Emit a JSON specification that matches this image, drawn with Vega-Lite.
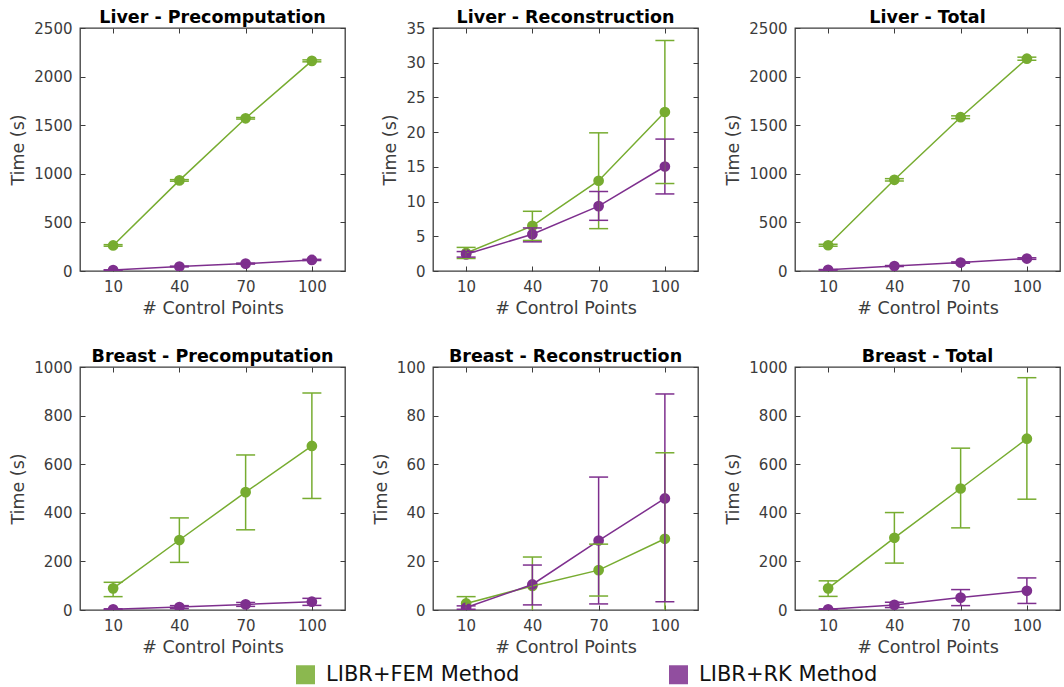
{
  "$schema": "https://vega.github.io/schema/vega-lite/v6.json",
  "padding": {"left": 9, "top": 7, "right": 0, "bottom": 0},
  "background": "white",
  "datasets": {
    "times": [
      {"panel": "Liver - Precomputation", "method": "LIBR+FEM Method", "cp": 10, "t": 263, "lo": 255, "hi": 271},
      {"panel": "Liver - Precomputation", "method": "LIBR+FEM Method", "cp": 40, "t": 932, "lo": 924, "hi": 940},
      {"panel": "Liver - Precomputation", "method": "LIBR+FEM Method", "cp": 70, "t": 1571, "lo": 1563, "hi": 1579},
      {"panel": "Liver - Precomputation", "method": "LIBR+FEM Method", "cp": 100, "t": 2162, "lo": 2152, "hi": 2172},
      {"panel": "Liver - Precomputation", "method": "LIBR+RK Method", "cp": 10, "t": 10, "lo": 8, "hi": 12},
      {"panel": "Liver - Precomputation", "method": "LIBR+RK Method", "cp": 40, "t": 46, "lo": 42, "hi": 50},
      {"panel": "Liver - Precomputation", "method": "LIBR+RK Method", "cp": 70, "t": 76, "lo": 71, "hi": 81},
      {"panel": "Liver - Precomputation", "method": "LIBR+RK Method", "cp": 100, "t": 114, "lo": 108, "hi": 120},

      {"panel": "Liver - Reconstruction", "method": "LIBR+FEM Method", "cp": 10, "t": 2.6, "lo": 1.8, "hi": 3.4},
      {"panel": "Liver - Reconstruction", "method": "LIBR+FEM Method", "cp": 40, "t": 6.5, "lo": 4.4, "hi": 8.6},
      {"panel": "Liver - Reconstruction", "method": "LIBR+FEM Method", "cp": 70, "t": 13.0, "lo": 6.1, "hi": 19.9},
      {"panel": "Liver - Reconstruction", "method": "LIBR+FEM Method", "cp": 100, "t": 22.9, "lo": 12.6, "hi": 33.2},
      {"panel": "Liver - Reconstruction", "method": "LIBR+RK Method", "cp": 10, "t": 2.4, "lo": 2.0, "hi": 2.8},
      {"panel": "Liver - Reconstruction", "method": "LIBR+RK Method", "cp": 40, "t": 5.3, "lo": 4.2, "hi": 6.2},
      {"panel": "Liver - Reconstruction", "method": "LIBR+RK Method", "cp": 70, "t": 9.35, "lo": 7.3, "hi": 11.45},
      {"panel": "Liver - Reconstruction", "method": "LIBR+RK Method", "cp": 100, "t": 15.05, "lo": 11.1, "hi": 19.0},

      {"panel": "Liver - Total", "method": "LIBR+FEM Method", "cp": 10, "t": 265, "lo": 255, "hi": 275},
      {"panel": "Liver - Total", "method": "LIBR+FEM Method", "cp": 40, "t": 938, "lo": 926, "hi": 950},
      {"panel": "Liver - Total", "method": "LIBR+FEM Method", "cp": 70, "t": 1582, "lo": 1568, "hi": 1596},
      {"panel": "Liver - Total", "method": "LIBR+FEM Method", "cp": 100, "t": 2184, "lo": 2168, "hi": 2200},
      {"panel": "Liver - Total", "method": "LIBR+RK Method", "cp": 10, "t": 12, "lo": 9, "hi": 15},
      {"panel": "Liver - Total", "method": "LIBR+RK Method", "cp": 40, "t": 51, "lo": 46, "hi": 56},
      {"panel": "Liver - Total", "method": "LIBR+RK Method", "cp": 70, "t": 87, "lo": 80, "hi": 94},
      {"panel": "Liver - Total", "method": "LIBR+RK Method", "cp": 100, "t": 128, "lo": 120, "hi": 136},

      {"panel": "Breast - Precomputation", "method": "LIBR+FEM Method", "cp": 10, "t": 89, "lo": 55, "hi": 114},
      {"panel": "Breast - Precomputation", "method": "LIBR+FEM Method", "cp": 40, "t": 288, "lo": 196, "hi": 379},
      {"panel": "Breast - Precomputation", "method": "LIBR+FEM Method", "cp": 70, "t": 485, "lo": 330, "hi": 638},
      {"panel": "Breast - Precomputation", "method": "LIBR+FEM Method", "cp": 100, "t": 675, "lo": 459, "hi": 893},
      {"panel": "Breast - Precomputation", "method": "LIBR+RK Method", "cp": 10, "t": 3, "lo": 1, "hi": 5},
      {"panel": "Breast - Precomputation", "method": "LIBR+RK Method", "cp": 40, "t": 12, "lo": 6, "hi": 18},
      {"panel": "Breast - Precomputation", "method": "LIBR+RK Method", "cp": 70, "t": 23, "lo": 15, "hi": 31},
      {"panel": "Breast - Precomputation", "method": "LIBR+RK Method", "cp": 100, "t": 34, "lo": 19, "hi": 48},

      {"panel": "Breast - Reconstruction", "method": "LIBR+FEM Method", "cp": 10, "t": 2.7, "lo": -0.5, "hi": 5.5},
      {"panel": "Breast - Reconstruction", "method": "LIBR+FEM Method", "cp": 40, "t": 9.9, "lo": -2, "hi": 21.8},
      {"panel": "Breast - Reconstruction", "method": "LIBR+FEM Method", "cp": 70, "t": 16.4, "lo": 5.75, "hi": 27.1},
      {"panel": "Breast - Reconstruction", "method": "LIBR+FEM Method", "cp": 100, "t": 29.3, "lo": -6, "hi": 64.7},
      {"panel": "Breast - Reconstruction", "method": "LIBR+RK Method", "cp": 10, "t": 1.0, "lo": 0.3, "hi": 1.7},
      {"panel": "Breast - Reconstruction", "method": "LIBR+RK Method", "cp": 40, "t": 10.5, "lo": 2.1, "hi": 18.5},
      {"panel": "Breast - Reconstruction", "method": "LIBR+RK Method", "cp": 70, "t": 28.6, "lo": 2.5, "hi": 54.7},
      {"panel": "Breast - Reconstruction", "method": "LIBR+RK Method", "cp": 100, "t": 45.9, "lo": 3.4, "hi": 88.9},

      {"panel": "Breast - Total", "method": "LIBR+FEM Method", "cp": 10, "t": 89, "lo": 56, "hi": 120},
      {"panel": "Breast - Total", "method": "LIBR+FEM Method", "cp": 40, "t": 297, "lo": 193, "hi": 401},
      {"panel": "Breast - Total", "method": "LIBR+FEM Method", "cp": 70, "t": 500, "lo": 338, "hi": 666},
      {"panel": "Breast - Total", "method": "LIBR+FEM Method", "cp": 100, "t": 705, "lo": 456, "hi": 956},
      {"panel": "Breast - Total", "method": "LIBR+RK Method", "cp": 10, "t": 3, "lo": 1, "hi": 5},
      {"panel": "Breast - Total", "method": "LIBR+RK Method", "cp": 40, "t": 21, "lo": 10, "hi": 32},
      {"panel": "Breast - Total", "method": "LIBR+RK Method", "cp": 70, "t": 51, "lo": 18, "hi": 84},
      {"panel": "Breast - Total", "method": "LIBR+RK Method", "cp": 100, "t": 79, "lo": 27, "hi": 132}
    ]
  },
  "columns": 3,
  "spacing": {"column": 24, "row": 28},
  "concat": [
    {
      "title": "Liver - Precomputation",
      "width": 265, "height": 243,
      "data": {"name": "times"},
      "transform": [{"filter": "datum.panel == 'Liver - Precomputation'"}],
      "encoding": {
        "x": {"field": "cp", "type": "quantitative", "scale": {"domain": [-5, 115], "nice": false}, "axis": null},
        "color": {"field": "method", "type": "nominal", "scale": {"domain": ["LIBR+FEM Method", "LIBR+RK Method"], "range": ["#77AC30", "#7E2F8E"]}, "legend": {"orient": "none", "legendX": 215, "legendY": 636, "direction": "horizontal", "title": null, "symbolType": "square", "symbolSize": 361, "symbolOpacity": 0.85, "symbolStrokeWidth": 0, "labelFontSize": 21, "labelColor": "#111111", "labelOffset": 10, "columnPadding": 148, "labelLimit": 400}}
      },
      "resolve": {"axis": {"x": "independent", "y": "independent"}},
      "layer": [
        {"mark": {"type": "point", "filled": true, "size": 115, "opacity": 1, "clip": true},
         "encoding": {"x": {"field": "cp", "type": "quantitative", "axis": {"orient": "bottom", "values": [10, 40, 70, 100], "title": "# Control Points"}},
                      "y": {"field": "t", "type": "quantitative", "scale": {"domain": [0, 2500], "nice": false}, "axis": {"orient": "left", "values": [0, 500, 1000, 1500, 2000, 2500], "title": "Time (s)"}}}},
        {"mark": {"type": "line", "strokeWidth": 1.5, "clip": true},
         "encoding": {"y": {"field": "t", "type": "quantitative", "axis": null}}},
        {"mark": {"type": "rule", "strokeWidth": 1.5, "clip": true},
         "encoding": {"y": {"field": "lo", "type": "quantitative", "axis": null}, "y2": {"field": "hi"}}},
        {"mark": {"type": "tick", "orient": "horizontal", "size": 19, "thickness": 1.5, "clip": true, "opacity": 1},
         "encoding": {"y": {"field": "lo", "type": "quantitative", "axis": null}}},
        {"mark": {"type": "tick", "orient": "horizontal", "size": 19, "thickness": 1.5, "clip": true, "opacity": 1},
         "encoding": {"x": {"field": "cp", "type": "quantitative", "axis": {"orient": "top", "values": [10, 40, 70, 100], "labels": false, "title": null}},
                      "y": {"field": "hi", "type": "quantitative", "axis": {"orient": "right", "values": [0, 500, 1000, 1500, 2000, 2500], "labels": false, "title": null}}}}
      ]
    },
    {
      "title": "Liver - Reconstruction",
      "width": 265, "height": 243,
      "data": {"name": "times"},
      "transform": [{"filter": "datum.panel == 'Liver - Reconstruction'"}],
      "encoding": {
        "x": {"field": "cp", "type": "quantitative", "scale": {"domain": [-5, 115], "nice": false}, "axis": null},
        "color": {"field": "method", "type": "nominal", "scale": {"domain": ["LIBR+FEM Method", "LIBR+RK Method"], "range": ["#77AC30", "#7E2F8E"]}, "legend": {"orient": "none", "legendX": 215, "legendY": 636, "direction": "horizontal", "title": null, "symbolType": "square", "symbolSize": 361, "symbolOpacity": 0.85, "symbolStrokeWidth": 0, "labelFontSize": 21, "labelColor": "#111111", "labelOffset": 10, "columnPadding": 148, "labelLimit": 400}}
      },
      "resolve": {"axis": {"x": "independent", "y": "independent"}},
      "layer": [
        {"mark": {"type": "point", "filled": true, "size": 115, "opacity": 1, "clip": true},
         "encoding": {"x": {"field": "cp", "type": "quantitative", "axis": {"orient": "bottom", "values": [10, 40, 70, 100], "title": "# Control Points"}},
                      "y": {"field": "t", "type": "quantitative", "scale": {"domain": [0, 35], "nice": false}, "axis": {"orient": "left", "values": [0, 5, 10, 15, 20, 25, 30, 35], "title": "Time (s)"}}}},
        {"mark": {"type": "line", "strokeWidth": 1.5, "clip": true},
         "encoding": {"y": {"field": "t", "type": "quantitative", "axis": null}}},
        {"mark": {"type": "rule", "strokeWidth": 1.5, "clip": true},
         "encoding": {"y": {"field": "lo", "type": "quantitative", "axis": null}, "y2": {"field": "hi"}}},
        {"mark": {"type": "tick", "orient": "horizontal", "size": 19, "thickness": 1.5, "clip": true, "opacity": 1},
         "encoding": {"y": {"field": "lo", "type": "quantitative", "axis": null}}},
        {"mark": {"type": "tick", "orient": "horizontal", "size": 19, "thickness": 1.5, "clip": true, "opacity": 1},
         "encoding": {"x": {"field": "cp", "type": "quantitative", "axis": {"orient": "top", "values": [10, 40, 70, 100], "labels": false, "title": null}},
                      "y": {"field": "hi", "type": "quantitative", "axis": {"orient": "right", "values": [0, 5, 10, 15, 20, 25, 30, 35], "labels": false, "title": null}}}}
      ]
    },
    {
      "title": "Liver - Total",
      "width": 265, "height": 243,
      "data": {"name": "times"},
      "transform": [{"filter": "datum.panel == 'Liver - Total'"}],
      "encoding": {
        "x": {"field": "cp", "type": "quantitative", "scale": {"domain": [-5, 115], "nice": false}, "axis": null},
        "color": {"field": "method", "type": "nominal", "scale": {"domain": ["LIBR+FEM Method", "LIBR+RK Method"], "range": ["#77AC30", "#7E2F8E"]}, "legend": {"orient": "none", "legendX": 215, "legendY": 636, "direction": "horizontal", "title": null, "symbolType": "square", "symbolSize": 361, "symbolOpacity": 0.85, "symbolStrokeWidth": 0, "labelFontSize": 21, "labelColor": "#111111", "labelOffset": 10, "columnPadding": 148, "labelLimit": 400}}
      },
      "resolve": {"axis": {"x": "independent", "y": "independent"}},
      "layer": [
        {"mark": {"type": "point", "filled": true, "size": 115, "opacity": 1, "clip": true},
         "encoding": {"x": {"field": "cp", "type": "quantitative", "axis": {"orient": "bottom", "values": [10, 40, 70, 100], "title": "# Control Points"}},
                      "y": {"field": "t", "type": "quantitative", "scale": {"domain": [0, 2500], "nice": false}, "axis": {"orient": "left", "values": [0, 500, 1000, 1500, 2000, 2500], "title": "Time (s)"}}}},
        {"mark": {"type": "line", "strokeWidth": 1.5, "clip": true},
         "encoding": {"y": {"field": "t", "type": "quantitative", "axis": null}}},
        {"mark": {"type": "rule", "strokeWidth": 1.5, "clip": true},
         "encoding": {"y": {"field": "lo", "type": "quantitative", "axis": null}, "y2": {"field": "hi"}}},
        {"mark": {"type": "tick", "orient": "horizontal", "size": 19, "thickness": 1.5, "clip": true, "opacity": 1},
         "encoding": {"y": {"field": "lo", "type": "quantitative", "axis": null}}},
        {"mark": {"type": "tick", "orient": "horizontal", "size": 19, "thickness": 1.5, "clip": true, "opacity": 1},
         "encoding": {"x": {"field": "cp", "type": "quantitative", "axis": {"orient": "top", "values": [10, 40, 70, 100], "labels": false, "title": null}},
                      "y": {"field": "hi", "type": "quantitative", "axis": {"orient": "right", "values": [0, 500, 1000, 1500, 2000, 2500], "labels": false, "title": null}}}}
      ]
    },
    {
      "title": "Breast - Precomputation",
      "width": 265, "height": 243,
      "data": {"name": "times"},
      "transform": [{"filter": "datum.panel == 'Breast - Precomputation'"}],
      "encoding": {
        "x": {"field": "cp", "type": "quantitative", "scale": {"domain": [-5, 115], "nice": false}, "axis": null},
        "color": {"field": "method", "type": "nominal", "scale": {"domain": ["LIBR+FEM Method", "LIBR+RK Method"], "range": ["#77AC30", "#7E2F8E"]}, "legend": {"orient": "none", "legendX": 215, "legendY": 636, "direction": "horizontal", "title": null, "symbolType": "square", "symbolSize": 361, "symbolOpacity": 0.85, "symbolStrokeWidth": 0, "labelFontSize": 21, "labelColor": "#111111", "labelOffset": 10, "columnPadding": 148, "labelLimit": 400}}
      },
      "resolve": {"axis": {"x": "independent", "y": "independent"}},
      "layer": [
        {"mark": {"type": "point", "filled": true, "size": 115, "opacity": 1, "clip": true},
         "encoding": {"x": {"field": "cp", "type": "quantitative", "axis": {"orient": "bottom", "values": [10, 40, 70, 100], "title": "# Control Points"}},
                      "y": {"field": "t", "type": "quantitative", "scale": {"domain": [0, 1000], "nice": false}, "axis": {"orient": "left", "values": [0, 200, 400, 600, 800, 1000], "title": "Time (s)"}}}},
        {"mark": {"type": "line", "strokeWidth": 1.5, "clip": true},
         "encoding": {"y": {"field": "t", "type": "quantitative", "axis": null}}},
        {"mark": {"type": "rule", "strokeWidth": 1.5, "clip": true},
         "encoding": {"y": {"field": "lo", "type": "quantitative", "axis": null}, "y2": {"field": "hi"}}},
        {"mark": {"type": "tick", "orient": "horizontal", "size": 19, "thickness": 1.5, "clip": true, "opacity": 1},
         "encoding": {"y": {"field": "lo", "type": "quantitative", "axis": null}}},
        {"mark": {"type": "tick", "orient": "horizontal", "size": 19, "thickness": 1.5, "clip": true, "opacity": 1},
         "encoding": {"x": {"field": "cp", "type": "quantitative", "axis": {"orient": "top", "values": [10, 40, 70, 100], "labels": false, "title": null}},
                      "y": {"field": "hi", "type": "quantitative", "axis": {"orient": "right", "values": [0, 200, 400, 600, 800, 1000], "labels": false, "title": null}}}}
      ]
    },
    {
      "title": "Breast - Reconstruction",
      "width": 265, "height": 243,
      "data": {"name": "times"},
      "transform": [{"filter": "datum.panel == 'Breast - Reconstruction'"}],
      "encoding": {
        "x": {"field": "cp", "type": "quantitative", "scale": {"domain": [-5, 115], "nice": false}, "axis": null},
        "color": {"field": "method", "type": "nominal", "scale": {"domain": ["LIBR+FEM Method", "LIBR+RK Method"], "range": ["#77AC30", "#7E2F8E"]}, "legend": {"orient": "none", "legendX": 215, "legendY": 636, "direction": "horizontal", "title": null, "symbolType": "square", "symbolSize": 361, "symbolOpacity": 0.85, "symbolStrokeWidth": 0, "labelFontSize": 21, "labelColor": "#111111", "labelOffset": 10, "columnPadding": 148, "labelLimit": 400}}
      },
      "resolve": {"axis": {"x": "independent", "y": "independent"}},
      "layer": [
        {"mark": {"type": "point", "filled": true, "size": 115, "opacity": 1, "clip": true},
         "encoding": {"x": {"field": "cp", "type": "quantitative", "axis": {"orient": "bottom", "values": [10, 40, 70, 100], "title": "# Control Points"}},
                      "y": {"field": "t", "type": "quantitative", "scale": {"domain": [0, 100], "nice": false}, "axis": {"orient": "left", "values": [0, 20, 40, 60, 80, 100], "title": "Time (s)"}}}},
        {"mark": {"type": "line", "strokeWidth": 1.5, "clip": true},
         "encoding": {"y": {"field": "t", "type": "quantitative", "axis": null}}},
        {"mark": {"type": "rule", "strokeWidth": 1.5, "clip": true},
         "encoding": {"y": {"field": "lo", "type": "quantitative", "axis": null}, "y2": {"field": "hi"}}},
        {"mark": {"type": "tick", "orient": "horizontal", "size": 19, "thickness": 1.5, "clip": true, "opacity": 1},
         "encoding": {"y": {"field": "lo", "type": "quantitative", "axis": null}}},
        {"mark": {"type": "tick", "orient": "horizontal", "size": 19, "thickness": 1.5, "clip": true, "opacity": 1},
         "encoding": {"x": {"field": "cp", "type": "quantitative", "axis": {"orient": "top", "values": [10, 40, 70, 100], "labels": false, "title": null}},
                      "y": {"field": "hi", "type": "quantitative", "axis": {"orient": "right", "values": [0, 20, 40, 60, 80, 100], "labels": false, "title": null}}}}
      ]
    },
    {
      "title": "Breast - Total",
      "width": 265, "height": 243,
      "data": {"name": "times"},
      "transform": [{"filter": "datum.panel == 'Breast - Total'"}],
      "encoding": {
        "x": {"field": "cp", "type": "quantitative", "scale": {"domain": [-5, 115], "nice": false}, "axis": null},
        "color": {"field": "method", "type": "nominal", "scale": {"domain": ["LIBR+FEM Method", "LIBR+RK Method"], "range": ["#77AC30", "#7E2F8E"]}, "legend": {"orient": "none", "legendX": 215, "legendY": 636, "direction": "horizontal", "title": null, "symbolType": "square", "symbolSize": 361, "symbolOpacity": 0.85, "symbolStrokeWidth": 0, "labelFontSize": 21, "labelColor": "#111111", "labelOffset": 10, "columnPadding": 148, "labelLimit": 400}}
      },
      "resolve": {"axis": {"x": "independent", "y": "independent"}},
      "layer": [
        {"mark": {"type": "point", "filled": true, "size": 115, "opacity": 1, "clip": true},
         "encoding": {"x": {"field": "cp", "type": "quantitative", "axis": {"orient": "bottom", "values": [10, 40, 70, 100], "title": "# Control Points"}},
                      "y": {"field": "t", "type": "quantitative", "scale": {"domain": [0, 1000], "nice": false}, "axis": {"orient": "left", "values": [0, 200, 400, 600, 800, 1000], "title": "Time (s)"}}}},
        {"mark": {"type": "line", "strokeWidth": 1.5, "clip": true},
         "encoding": {"y": {"field": "t", "type": "quantitative", "axis": null}}},
        {"mark": {"type": "rule", "strokeWidth": 1.5, "clip": true},
         "encoding": {"y": {"field": "lo", "type": "quantitative", "axis": null}, "y2": {"field": "hi"}}},
        {"mark": {"type": "tick", "orient": "horizontal", "size": 19, "thickness": 1.5, "clip": true, "opacity": 1},
         "encoding": {"y": {"field": "lo", "type": "quantitative", "axis": null}}},
        {"mark": {"type": "tick", "orient": "horizontal", "size": 19, "thickness": 1.5, "clip": true, "opacity": 1},
         "encoding": {"x": {"field": "cp", "type": "quantitative", "axis": {"orient": "top", "values": [10, 40, 70, 100], "labels": false, "title": null}},
                      "y": {"field": "hi", "type": "quantitative", "axis": {"orient": "right", "values": [0, 200, 400, 600, 800, 1000], "labels": false, "title": null}}}}
      ]
    }
  ],
  "config": {
    "font": "DejaVu Sans",
    "view": {"stroke": "#3c3c3c", "strokeWidth": 1.3},
    "axis": {"grid": false, "domain": false, "format": "d", "tickSize": -5, "tickColor": "#3c3c3c", "tickWidth": 1, "labelFontSize": 15, "labelColor": "#3c3c3c", "labelPadding": 13, "titleFontSize": 17.5, "titleColor": "#3c3c3c", "titleFontWeight": "normal", "titlePadding": 6},
    "axisBottom": {"titlePadding": 5},
    "title": {"fontSize": 17.5, "fontWeight": "bold", "color": "#000000", "offset": -5, "anchor": "middle"}
  }
}
